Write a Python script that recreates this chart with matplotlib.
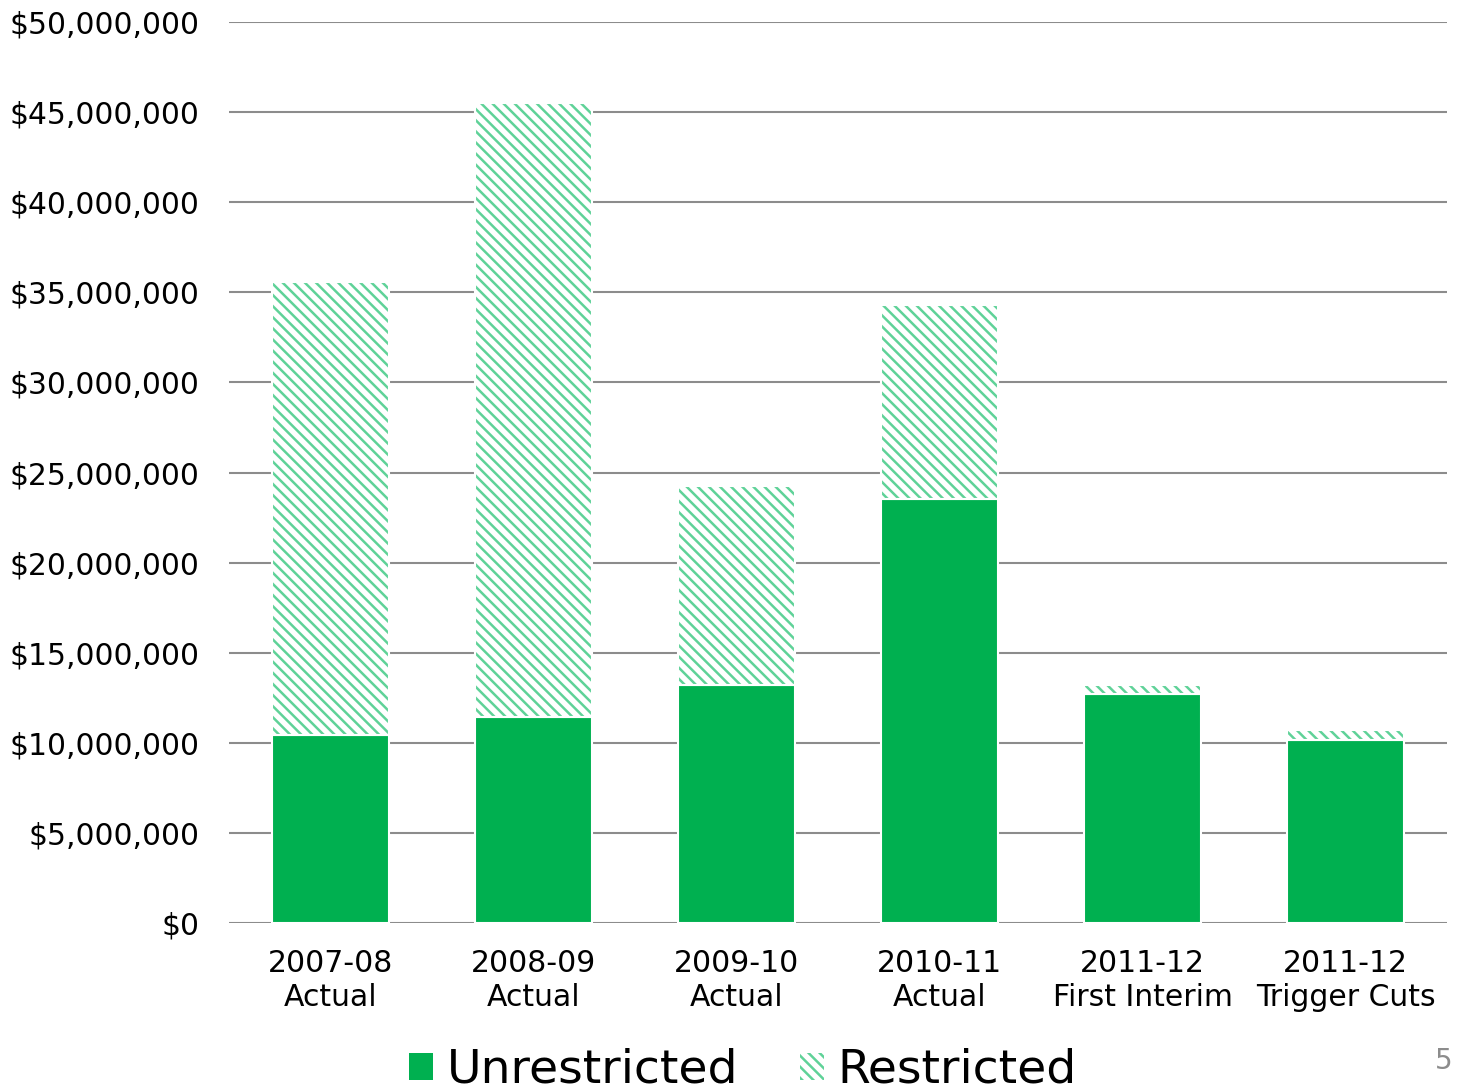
import matplotlib.pyplot as plt
from matplotlib.patches import Rectangle
from matplotlib.ticker import FuncFormatter

plt.rcParams["font.family"] = ["DejaVu Sans"]
plt.rcParams["hatch.linewidth"] = 1.8

categories = ["2007-08\nActual", "2008-09\nActual", "2009-10\nActual",
              "2010-11\nActual", "2011-12\nFirst Interim", "2011-12\nTrigger Cuts"]
unrestricted = [10_450_000, 11_450_000, 13_200_000, 23_550_000, 12_700_000, 10_150_000]
restricted = [25_100_000, 34_050_000, 11_050_000, 10_750_000, 500_000, 550_000]

GREEN = "#00B050"
HATCH_GREEN = "#5fd298"

fig = plt.figure(figsize=(14.57, 10.9), dpi=100)
ax = fig.add_axes([0.1572, 0.1532, 0.8359, 0.8266])

x = range(len(categories))
ax.bar(x, unrestricted, width=0.58, color=GREEN, edgecolor="white", linewidth=1.5, zorder=3)
ax.bar(x, restricted, width=0.58, bottom=unrestricted, color="white",
       edgecolor=HATCH_GREEN, hatch="\\\\\\", linewidth=0, zorder=3)
# white outline over the hatched part
ax.bar(x, restricted, width=0.58, bottom=unrestricted, fill=False,
       edgecolor="white", linewidth=1.5, zorder=4)

ax.set_xlim(-0.5, len(categories) - 0.5)
ax.set_ylim(0, 50_000_000)
ax.set_yticks(range(0, 50_000_001, 5_000_000))
ax.yaxis.set_major_formatter(FuncFormatter(lambda v, _: f"${v:,.0f}"))
ax.grid(axis="y", color="#8c8c8c", linewidth=1.5, zorder=0)
ax.set_axisbelow(True)
for s in ax.spines.values():
    s.set_visible(False)
ax.tick_params(axis="both", length=0)
ax.tick_params(axis="y", pad=21, labelsize=21.4)
ax.tick_params(axis="x", pad=19, labelsize=21.5)
ax.set_xticks(list(x))
ax.set_xticklabels(categories, linespacing=1.2)

handles = [
    Rectangle((0, 0), 1, 1, facecolor=GREEN, edgecolor="none"),
    Rectangle((0, 0), 1, 1, facecolor="white", edgecolor=HATCH_GREEN, hatch="\\\\\\", linewidth=0),
]
fig.legend(handles, ["Unrestricted", "Restricted"], loc="center", bbox_to_anchor=(0.51, 0.018),
           ncol=2, frameon=False, fontsize=34, handlelength=0.5, handleheight=0.5,
           handletextpad=0.3, columnspacing=1.3, borderpad=0)

fig.text(0.997, 0.027, "5", color="#8c8c8c", fontsize=20, ha="right", va="center")

fig.savefig("out.png", dpi=100)
